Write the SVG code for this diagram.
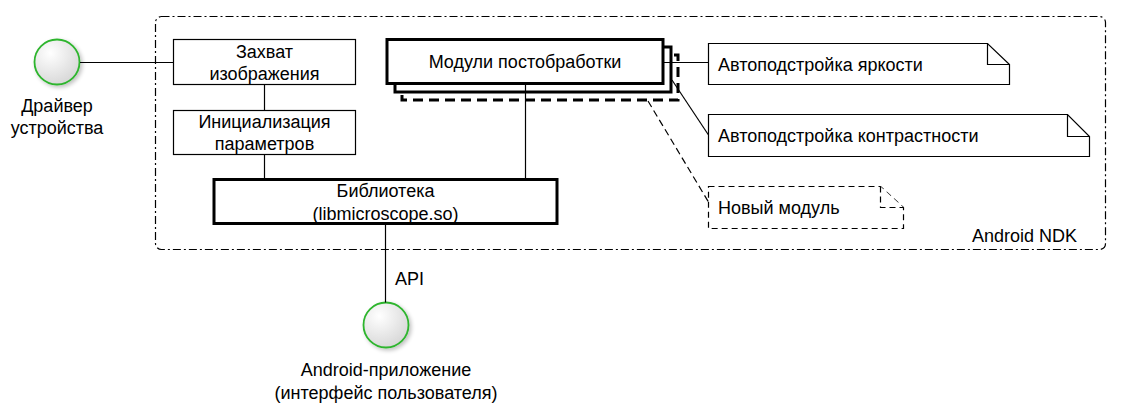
<svg xmlns="http://www.w3.org/2000/svg" width="1121" height="413" viewBox="0 0 1121 413">
<defs>
<radialGradient id="gball" cx="0.35" cy="0.3" r="0.8">
<stop offset="0" stop-color="#ffffff"/>
<stop offset="1" stop-color="#d4d4d4"/>
</radialGradient>
<filter id="sh" x="-30%" y="-30%" width="170%" height="170%">
<feGaussianBlur in="SourceAlpha" stdDeviation="2"/>
<feOffset dx="2" dy="2"/>
<feComponentTransfer><feFuncA type="linear" slope="0.25"/></feComponentTransfer>
<feMerge><feMergeNode/><feMergeNode in="SourceGraphic"/></feMerge>
</filter>
</defs>
<style>
text{font-family:"Liberation Sans",Arial,sans-serif;font-size:18px;fill:#000}
.c{text-anchor:middle}
.box{fill:#fff;stroke:#000;stroke-width:1.2}
.thick{fill:#fff;stroke:#000;stroke-width:3}
.dthick{fill:#fff;stroke:#000;stroke-width:3;stroke-dasharray:10 6}
.note{fill:#fff;stroke:#000;stroke-width:1.2}
.dnote{fill:#fff;stroke:#000;stroke-width:1.2;stroke-dasharray:6 4}
.ball{fill:url(#gball);stroke:#2db52d;stroke-width:1.8}
.ln{fill:none;stroke:#000;stroke-width:1.2}
.dln{fill:none;stroke:#000;stroke-width:1.2;stroke-dasharray:7 4}
.frame{fill:none;stroke:#000;stroke-width:1.2;stroke-dasharray:8 3 2 3}
</style>
<rect id="android-ndk" x="155.5" y="16.5" width="950" height="233" rx="6" class="frame"/>
<text x="1077" y="242" text-anchor="end">Android NDK</text>

<g id="driver">
<circle cx="57" cy="62" r="22.5" class="ball" filter="url(#sh)"/>
<text x="57" y="112" class="c">Драйвер</text>
<text x="57" y="134" class="c">устройства</text>
</g>

<g id="capture">
<rect x="173.5" y="39.5" width="182" height="45" class="box"/>
<text x="264.5" y="58" class="c">Захват</text>
<text x="264.5" y="80" class="c">изображения</text>
</g>

<g id="init">
<rect x="173.5" y="110.5" width="182" height="44" class="box"/>
<text x="264.5" y="128" class="c">Инициализация</text>
<text x="264.5" y="150" class="c">параметров</text>
</g>

<g id="library">
<rect x="214" y="179.5" width="343" height="44" class="thick"/>
<text x="385.5" y="197" class="c">Библиотека</text>
<text x="385.5" y="220" class="c">(libmicroscope.so)</text>
</g>

<g id="app">
<circle cx="386" cy="325" r="22.5" class="ball" filter="url(#sh)"/>
<text x="386" y="376" class="c">Android-приложение</text>
<text x="386" y="399" class="c">(интерфейс пользователя)</text>
</g>

<g id="modules">
<rect x="402" y="55" width="276" height="45" class="dthick"/>
<rect x="395" y="47" width="276" height="45" class="thick"/>
<rect x="387" y="39.5" width="276" height="44" class="thick"/>
<text x="525" y="68" class="c">Модули постобработки</text>
</g>

<g id="note-brightness">
<path d="M708.5,43.5 H987.5 L1009.5,64.5 V84.5 H708.5 Z" class="note"/>
<path d="M987.5,43.5 V64.5 H1009.5" class="ln"/>
<text x="718" y="71">Автоподстройка яркости</text>
</g>

<g id="note-contrast">
<path d="M708.5,114.5 H1067.5 L1089.5,136.5 V156.5 H708.5 Z" class="note"/>
<path d="M1067.5,114.5 V136.5 H1089.5" class="ln"/>
<text x="718" y="142">Автоподстройка контрастности</text>
</g>

<g id="note-new">
<path d="M708.5,186.5 H880.5 L903.5,207.5 V228.5 H708.5 Z" class="dnote"/>
<path d="M880.5,186.5 V207.5 H903.5" class="dnote"/>
<text x="718" y="214">Новый модуль</text>
</g>

<g id="connectors">
<path d="M80,62.5 H173.5" class="ln"/>
<path d="M264.5,84.5 V110.5" class="ln"/>
<path d="M264.5,154.5 V179.5" class="ln"/>
<path d="M525.5,84 V179" class="ln"/>
<path d="M385.5,224 V302.5" class="ln"/>
<path d="M663,62.5 H708.5" class="ln"/>
<path d="M672,80 L708.5,135" class="ln"/>
<path d="M648,101 L708.5,202" class="dln"/>
<text x="395" y="285">API</text>
</g>
</svg>
